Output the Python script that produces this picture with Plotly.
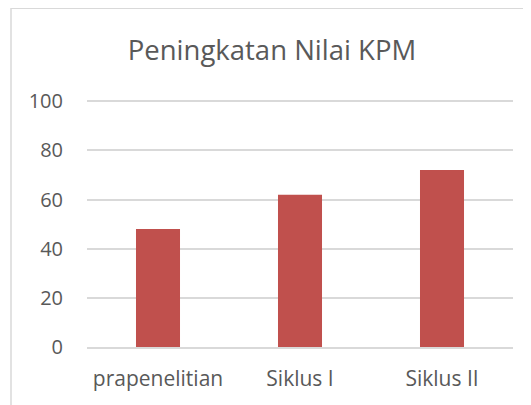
import plotly.graph_objects as go

categories = ["prapenelitian", "Siklus I", "Siklus II"]
values = [48, 62, 72]
y_ticks = [0, 20, 40, 60, 80, 100]
title_text = "Peningkatan Nilai KPM"

FONT = "Open Sans"
GRAY = "#595959"
OFF = 8  # page body margin

fig = go.Figure(go.Bar(x=categories, y=values, marker=dict(color="#C0504D", line=dict(width=0))))

W, H = 531, 405
# target screen coords of the plot area
left_px, right_px, top_px, bottom_px = 87, 513, 101.7, 346.7
ymax = 105
top_px_ext = bottom_px - (bottom_px - top_px) * ymax / 100
l = left_px - OFF
r = W - (right_px - OFF)
t = top_px_ext - OFF
b = H - (bottom_px - OFF)
pw, ph = W - l - r, H - t - b

def px2paper_x(px):
    return (px - OFF - l) / pw

def py2paper_y(py):
    return (H - b - (py - OFF)) / ph

fig.update_layout(
    width=W, height=H,
    margin=dict(l=l, r=r, t=t, b=b, pad=0),
    paper_bgcolor="white", plot_bgcolor="white",
    bargap=0.69,
    showlegend=False,
    title=dict(text=title_text, x=(272 - OFF) / W, xanchor="center", y=1 - (50 - OFF) / H, yanchor="middle",
               font=dict(family=FONT, size=27.5, color=GRAY)),
    font=dict(family=FONT, color=GRAY),
    shapes=[dict(type="rect", xref="paper", yref="paper",
                 x0=px2paper_x(11), x1=px2paper_x(545), y0=py2paper_y(9), y1=py2paper_y(430),
                 line=dict(color="#D9D9D9", width=1.5), fillcolor="rgba(0,0,0,0)", layer="below")],
)
fig.update_yaxes(range=[0, ymax], tickvals=y_ticks, showgrid=True, gridcolor="#D9D9D9", gridwidth=1.5,
                 zeroline=False, showline=False, tickfont=dict(family=FONT, size=20, color=GRAY),
                 ticklabelstandoff=23, fixedrange=True)
fig.update_xaxes(showgrid=False, showline=True, linecolor="#D9D9D9", linewidth=1.5,
                 tickfont=dict(family=FONT, size=21, color=GRAY), ticklabelstandoff=12)

fig.write_html("out.html")
